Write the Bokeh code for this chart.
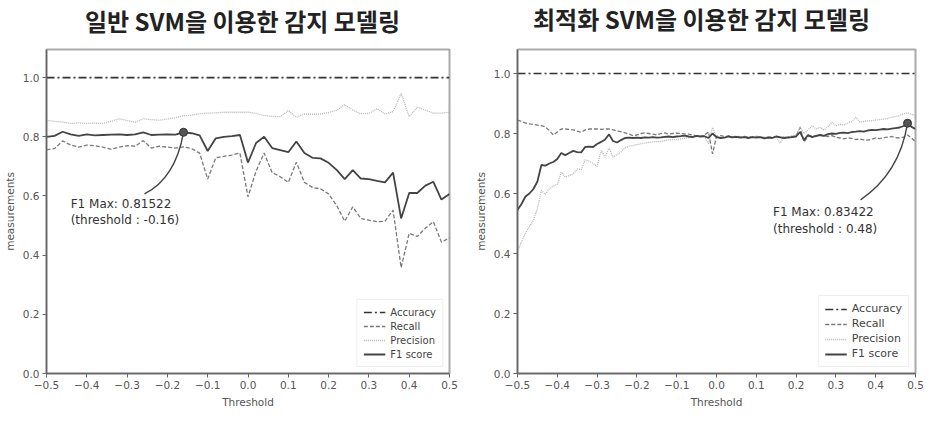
from bokeh.plotting import figure
from bokeh.layouts import row, column
from bokeh.models import Legend, LegendItem, FixedTicker, CustomJSTickFormatter, Range1d, Label
from bokeh.core.properties import value
from bokeh.embed import file_html
from bokeh.resources import INLINE

# ---------------- data ----------------
titles = ["일반 SVM을 이용한 감지 모델링", "최적화 SVM을 이용한 감지 모델링"]
series_names = ["Accuracy", "Recall", "Precision", "F1 score"]

left_threshold = [round(-0.5 + 0.02 * i, 2) for i in range(51)]
left_accuracy = [1.0] * 51
left_f1 = [0.800, 0.803, 0.817, 0.808, 0.803, 0.808, 0.805, 0.806, 0.807, 0.808,
           0.806, 0.808, 0.815, 0.806, 0.807, 0.808, 0.807, 0.815, 0.812, 0.805,
           0.752, 0.795, 0.800, 0.802, 0.806, 0.713, 0.779, 0.800, 0.762, 0.755,
           0.748, 0.784, 0.745, 0.729, 0.727, 0.712, 0.688, 0.657, 0.687, 0.659,
           0.657, 0.651, 0.646, 0.679, 0.524, 0.610, 0.610, 0.635, 0.648, 0.588,
           0.607]
left_recall = [0.756, 0.760, 0.786, 0.772, 0.765, 0.772, 0.770, 0.765, 0.758, 0.765,
               0.770, 0.768, 0.787, 0.762, 0.768, 0.765, 0.762, 0.766, 0.760, 0.745,
               0.657, 0.729, 0.734, 0.738, 0.745, 0.597, 0.684, 0.745, 0.679, 0.665,
               0.646, 0.714, 0.646, 0.629, 0.624, 0.607, 0.568, 0.515, 0.563, 0.524,
               0.518, 0.513, 0.515, 0.552, 0.358, 0.474, 0.463, 0.491, 0.513, 0.444,
               0.458]
left_precision = [0.856, 0.852, 0.850, 0.845, 0.847, 0.845, 0.846, 0.845, 0.852, 0.861,
                  0.855, 0.849, 0.861, 0.858, 0.856, 0.860, 0.864, 0.871, 0.873, 0.878,
                  0.880, 0.881, 0.883, 0.883, 0.883, 0.883, 0.879, 0.872, 0.869, 0.868,
                  0.889, 0.866, 0.877, 0.876, 0.877, 0.882, 0.889, 0.909, 0.890, 0.878,
                  0.879, 0.895, 0.877, 0.885, 0.946, 0.868, 0.900, 0.890, 0.880, 0.880,
                  0.883]
left_best_threshold = -0.16
left_best_f1 = 0.81522

right_threshold = [round(-0.5 + 0.01 * i, 2) for i in range(101)]
right_accuracy = [1.0] * 101
right_f1 = [0.545, 0.565, 0.590, 0.600, 0.615, 0.640, 0.695, 0.693, 0.700, 0.705,
            0.715, 0.735, 0.728, 0.735, 0.742, 0.738, 0.737, 0.755, 0.756, 0.755,
            0.765, 0.772, 0.780, 0.797, 0.775, 0.770, 0.778, 0.785, 0.786, 0.785,
            0.786, 0.785, 0.787, 0.786, 0.788, 0.786, 0.787, 0.789, 0.790, 0.788,
            0.790, 0.791, 0.793, 0.790, 0.788, 0.792, 0.790, 0.791, 0.785, 0.800,
            0.788, 0.785, 0.786, 0.790, 0.787, 0.789, 0.786, 0.788, 0.785, 0.788,
            0.786, 0.788, 0.784, 0.786, 0.785, 0.790, 0.787, 0.785, 0.786, 0.788,
            0.790, 0.805, 0.778, 0.795, 0.788, 0.792, 0.795, 0.792, 0.798, 0.800,
            0.799, 0.802, 0.803, 0.801, 0.805, 0.806, 0.808, 0.806, 0.810, 0.812,
            0.811, 0.813, 0.815, 0.814, 0.816, 0.818, 0.820, 0.825, 0.834, 0.822,
            0.815]
right_recall = [0.845, 0.840, 0.835, 0.832, 0.830, 0.828, 0.826, 0.822, 0.810, 0.795,
                0.805, 0.815, 0.815, 0.814, 0.812, 0.808, 0.804, 0.812, 0.815, 0.815,
                0.815, 0.814, 0.815, 0.815, 0.812, 0.808, 0.806, 0.802, 0.798, 0.793,
                0.795, 0.800, 0.802, 0.800, 0.798, 0.795, 0.800, 0.802, 0.798, 0.800,
                0.801, 0.800, 0.799, 0.798, 0.795, 0.792, 0.790, 0.795, 0.805, 0.732,
                0.790, 0.793, 0.790, 0.792, 0.789, 0.791, 0.788, 0.790, 0.787, 0.789,
                0.790, 0.788, 0.786, 0.789, 0.787, 0.790, 0.788, 0.786, 0.789, 0.790,
                0.792, 0.820, 0.772, 0.790, 0.792, 0.790, 0.795, 0.792, 0.790, 0.793,
                0.788, 0.785, 0.782, 0.786, 0.784, 0.780, 0.782, 0.779, 0.778, 0.781,
                0.785, 0.783, 0.786, 0.788, 0.790, 0.786, 0.785, 0.788, 0.795, 0.785,
                0.772]
right_precision = [0.405, 0.440, 0.467, 0.490, 0.510, 0.550, 0.610, 0.597, 0.615, 0.625,
                   0.630, 0.671, 0.655, 0.660, 0.665, 0.682, 0.680, 0.712, 0.708, 0.700,
                   0.690, 0.743, 0.721, 0.752, 0.721, 0.730, 0.738, 0.752, 0.758, 0.760,
                   0.763, 0.766, 0.768, 0.770, 0.772, 0.773, 0.774, 0.776, 0.778, 0.779,
                   0.780, 0.782, 0.784, 0.786, 0.790, 0.792, 0.790, 0.788, 0.766, 0.820,
                   0.790, 0.785, 0.788, 0.790, 0.789, 0.791, 0.788, 0.790, 0.787, 0.789,
                   0.790, 0.788, 0.787, 0.789, 0.786, 0.788, 0.768, 0.790, 0.788, 0.792,
                   0.795, 0.822, 0.800, 0.812, 0.826, 0.815, 0.820, 0.812, 0.822, 0.838,
                   0.825, 0.830, 0.828, 0.835, 0.840, 0.854, 0.838, 0.840, 0.842, 0.843,
                   0.845, 0.846, 0.848, 0.850, 0.854, 0.856, 0.860, 0.866, 0.868, 0.864,
                   0.860]
right_best_threshold = 0.48
right_best_f1 = 0.83422

x_ticks = [-0.5, -0.4, -0.3, -0.2, -0.1, 0.0, 0.1, 0.2, 0.3, 0.4, 0.5]
y_ticks = [0.0, 0.2, 0.4, 0.6, 0.8, 1.0]

FONT = "DejaVu Sans"
TITLE_FONT = "Noto Sans CJK KR"
TITLE_H = 38
PLOT_H = 422 - TITLE_H


def make_panel(th, acc, rec, prec, f1, best_t, best_f1, width, borders, ytop,
               note_xy, arrow_start, arrow_ctrl, legend_font):
    bl, br, bt, bb = borders
    p = figure(width=width, height=PLOT_H, output_backend="svg", toolbar_location=None,
               x_range=Range1d(-0.5, 0.5), y_range=Range1d(0, ytop),
               min_border_left=bl, min_border_right=br, min_border_top=bt, min_border_bottom=bb,
               background_fill_color="white", border_fill_color="white")
    p.grid.visible = False
    p.outline_line_color = "#aaaaaa"
    p.outline_line_width = 2

    fmt = CustomJSTickFormatter(code="return (tick < -1e-9 ? '\u2212' : '') + Math.abs(tick).toFixed(1);")
    for ax, ticks in ((p.xaxis, x_ticks), (p.yaxis, y_ticks)):
        ax.ticker = FixedTicker(ticks=ticks)
        ax.formatter = fmt
        ax.axis_line_color = "#666666"
        ax.axis_line_width = 1.5
        ax.major_tick_line_color = "#666666"
        ax.major_tick_out = 4
        ax.major_tick_in = 0
        ax.minor_tick_line_color = None
        ax.major_label_text_font = FONT
        ax.major_label_text_font_size = "10.5px"
        ax.major_label_text_color = "#555555"
        ax.axis_label_text_font = FONT
        ax.axis_label_text_font_size = "10.5px"
        ax.axis_label_text_font_style = "normal"
        ax.axis_label_text_color = "#555555"
        ax.major_label_standoff = 3
        ax.axis_label_standoff = 4
    p.xaxis.axis_label = "Threshold"
    p.yaxis.axis_label = "measurements"

    r_acc = p.line(th, acc, line_color="#333333", line_width=1.6, line_dash="8 3 2 3")
    r_rec = p.line(th, rec, line_color="#7a7a7a", line_width=1.3, line_dash="4 2")
    r_prec = p.line(th, prec, line_color="#b5b5b5", line_width=1.3, line_dash="1 1")
    r_f1 = p.line(th, f1, line_color="#444444", line_width=1.8)

    p.quadratic(x0=[arrow_start[0]], y0=[arrow_start[1]], x1=[best_t], y1=[best_f1],
                cx=[arrow_ctrl[0]], cy=[arrow_ctrl[1]], line_color="#444444", line_width=1.4)
    p.scatter([best_t], [best_f1], size=8, fill_color="#555555", line_color="#333333")

    p.add_layout(Label(x=note_xy[0], y=note_xy[1], text="F1 Max: %.5f" % best_f1,
                       text_font=FONT, text_font_size="12px", text_color="#333333",
                       text_baseline="middle"))
    p.add_layout(Label(x=note_xy[0], y=note_xy[1] - 0.056, text="(threshold : %.2f)" % best_t,
                       text_font=FONT, text_font_size="12px", text_color="#333333",
                       text_baseline="middle"))

    legend = Legend(items=[LegendItem(label=series_names[0], renderers=[r_acc]),
                           LegendItem(label=series_names[1], renderers=[r_rec]),
                           LegendItem(label=series_names[2], renderers=[r_prec]),
                           LegendItem(label=series_names[3], renderers=[r_f1])],
                    location="bottom_right")
    legend.label_text_font = FONT
    legend.label_text_font_size = legend_font
    legend.label_text_color = "#444444"
    legend.glyph_width = 22
    legend.glyph_height = 12
    legend.label_height = 12
    legend.spacing = 2
    legend.padding = 6
    legend.margin = 6
    legend.border_line_color = "#dddddd"
    legend.background_fill_alpha = 1.0
    p.add_layout(legend)
    return p


# title strip (pixel coordinate space of the strip)
t = figure(width=929, height=TITLE_H, output_backend="svg", toolbar_location=None,
           x_range=Range1d(0, 929), y_range=Range1d(0, TITLE_H),
           min_border=0, border_fill_color="white", background_fill_color="white")
t.axis.visible = False
t.grid.visible = False
t.outline_line_color = None
t.text(x=[242, 701], y=[TITLE_H - 19.5, TITLE_H - 18], text=titles,
       text_align="center", text_baseline="middle", text_font=value(TITLE_FONT),
       text_font_size="24px", text_font_style="bold", text_color="#222222")

p1 = make_panel(left_threshold, left_accuracy, left_recall, left_precision, left_f1,
                left_best_threshold, left_best_f1, 465, (41, 16, 47 - TITLE_H, 44), 1.095,
                (-0.44, 0.574), (-0.257, 0.607), (-0.18, 0.66), "10px")
p2 = make_panel(right_threshold, right_accuracy, right_recall, right_precision, right_f1,
                right_best_threshold, right_best_f1, 464, (52, 14, 49 - TITLE_H, 49), 1.08,
                (0.142, 0.538), (0.362, 0.579), (0.46, 0.667), "11px")

layout = column(t, row(p1, p2, spacing=0), spacing=0)
open("out.html", "w").write(file_html(layout, INLINE))
